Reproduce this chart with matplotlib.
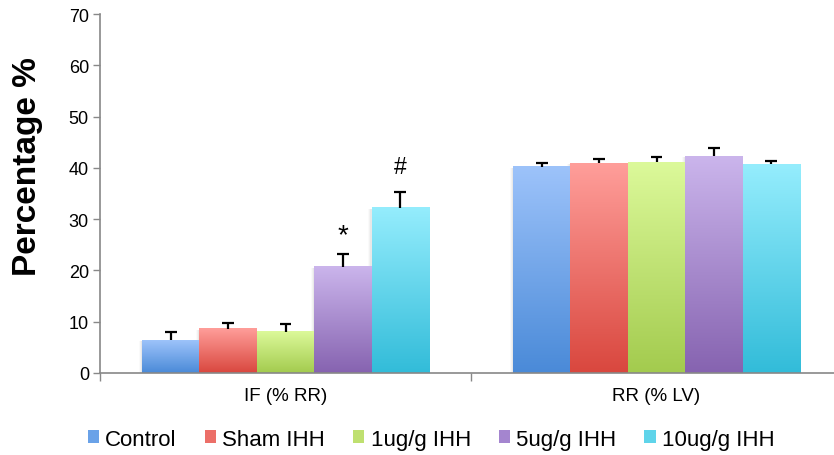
import numpy as np
import matplotlib.pyplot as plt
from matplotlib.colors import LinearSegmentedColormap
from matplotlib.patches import Patch

plt.rcParams['font.family'] = ['Liberation Sans', 'DejaVu Sans']

groups = ["IF (% RR)", "RR (% LV)"]
series = ["Control", "Sham IHH", "1ug/g IHH", "5ug/g IHH", "10ug/g IHH"]
values = [
    [6.4, 40.2],
    [8.6, 40.9],
    [8.0, 41.1],
    [20.7, 42.3],
    [32.2, 40.7],
]
errors = [
    [1.6, 0.7],
    [1.1, 0.8],
    [1.6, 1.0],
    [2.6, 1.5],
    [3.1, 0.7],
]
# significance marks: (series index, group index, symbol)
marks = [(3, 0, "*"), (4, 0, "#")]

# light top / dark bottom for each series
tops = ["#9dc3fa", "#ff9e9a", "#dcf99a", "#cbb5ec", "#95edfd"]
bottoms = ["#4a8ad8", "#d9473e", "#a3cb4e", "#8663b0", "#32bcd9"]
mids = ["#6aa2e8", "#ec6f68", "#bfe070", "#a485cf", "#5fd4ea"]

fig = plt.figure(figsize=(8.34, 4.56), dpi=100)
ax = fig.add_axes([100 / 834, 82 / 456, 742 / 834, 359 / 456])

width = 0.1547
cap = 0.016
n = len(series)
grad = np.linspace(0, 1, 256).reshape(-1, 1)

for i, name in enumerate(series):
    cmap = LinearSegmentedColormap.from_list(name, [bottoms[i], tops[i]])
    for g in range(len(groups)):
        x0 = g - n * width / 2 + i * width
        h = values[i][g]
        # faint blurred shadow on the left edge
        for k, a in enumerate([0.10, 0.07, 0.04]):
            ax.add_patch(plt.Rectangle((x0 - 0.003 * (k + 1), -0.2), width, h,
                                       color="#909090", alpha=a, zorder=1, lw=0))
        ax.imshow(grad, extent=[x0, x0 + width, 0, h], origin="lower",
                  cmap=cmap, aspect="auto", zorder=2, interpolation="bicubic")
    xs = np.array([g - n * width / 2 + (i + 0.5) * width for g in range(len(groups))])
    y0 = np.array(values[i])
    y1 = y0 + np.array(errors[i])
    ax.vlines(xs, y0, y1, color="black", lw=1.6, zorder=3)
    ax.hlines(y1, xs - cap, xs + cap, color="black", lw=1.6, zorder=3)

pads = {"*": 3.6, "#": 4.9}
sizes = {"*": 20, "#": 16.5}
for i, g, sym in marks:
    x = g - n * width / 2 + (i + 0.5) * width
    ax.text(x, values[i][g] + errors[i][g] + pads[sym], sym, ha="center",
            va="center", fontsize=sizes[sym], color="black")

ax.set_xlim(-0.5, 1.5)
ax.set_ylim(0, 70)
ax.set_yticks(np.arange(0, 71, 10))
ax.set_xticks(range(len(groups)))
ax.set_xticklabels(groups, fontsize=13.5)
ax.set_xticks([-0.5, 0.5], minor=True)
ax.tick_params(axis="x", which="major", length=0, pad=10)
ax.tick_params(axis="x", which="minor", length=6, color="#888888", width=1)
ax.tick_params(axis="y", length=5, color="#888888", width=1, labelsize=13, pad=3)
ax.set_ylabel("Percentage %", fontsize=24, fontweight="bold")
ax.yaxis.set_label_coords(-0.077, 0.577)

for side in ["top", "right"]:
    ax.spines[side].set_visible(False)
for side in ["left", "bottom"]:
    ax.spines[side].set_color("#888888")
    ax.spines[side].set_linewidth(1.2)

handles = [Patch(facecolor=mids[i], edgecolor="none") for i in range(n)]
fig.legend(handles, series, loc="center", bbox_to_anchor=(0.517, 0.035), ncol=n,
           frameon=False, fontsize=16, handlelength=0.5, handleheight=0.5,
           handletextpad=0.3, columnspacing=1.25)

fig.savefig("out.png", dpi=100)
